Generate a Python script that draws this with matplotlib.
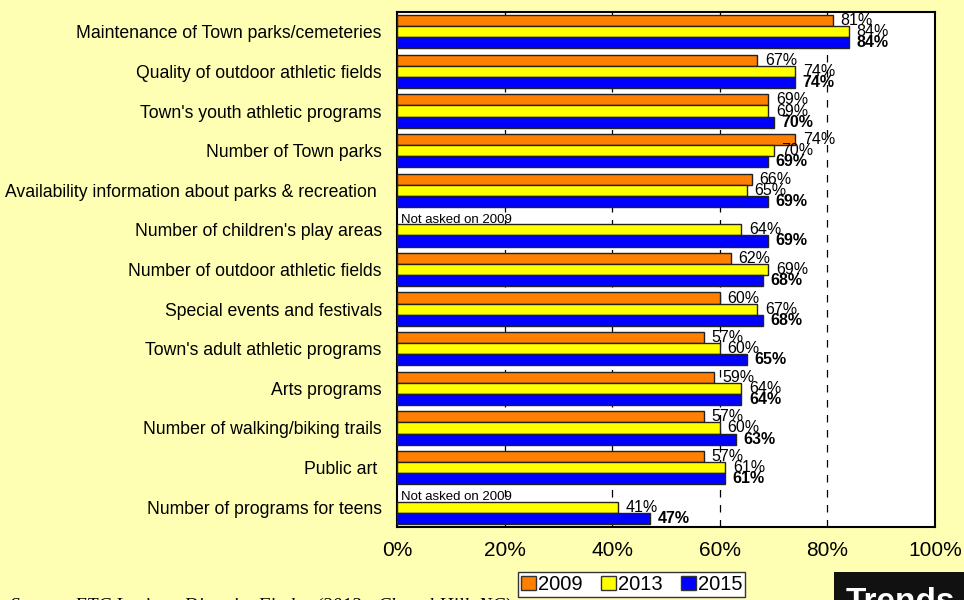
import numpy as np
import matplotlib
matplotlib.use("Agg")
import matplotlib.pyplot as plt
from matplotlib.patches import Patch, Rectangle

plt.rcParams['font.family'] = ['Liberation Sans', 'DejaVu Sans']

categories = [
    "Maintenance of Town parks/cemeteries",
    "Quality of outdoor athletic fields",
    "Town's youth athletic programs",
    "Number of Town parks",
    "Availability information about parks & recreation ",
    "Number of children's play areas",
    "Number of outdoor athletic fields",
    "Special events and festivals",
    "Town's adult athletic programs",
    "Arts programs",
    "Number of walking/biking trails",
    "Public art ",
    "Number of programs for teens",
]
vals_2009 = [81, 67, 69, 74, 66, None, 62, 60, 57, 59, 57, 57, None]
vals_2013 = [84, 74, 69, 70, 65, 64, 69, 67, 60, 64, 60, 61, 41]
vals_2015 = [84, 74, 70, 69, 69, 69, 68, 68, 65, 64, 63, 61, 47]
years = ["2009", "2013", "2015"]
colors = ["#FF8000", "#FFFF00", "#0000FF"]
bg = "#FFFFB4"

fig = plt.figure(figsize=(9.64, 6), dpi=100, facecolor=bg)
ax = fig.add_axes([397/964, 73/600, 538/964, 515/600])
ax.set_facecolor("white")

n = len(categories)
centers = np.arange(n) + 0.5
h = 0.28
series = [vals_2009, vals_2013, vals_2015]
for k, (vals, col) in enumerate(zip(series, colors)):
    y = centers + (k - 1) * h
    for i, v in enumerate(vals):
        if v is None:
            ax.text(0.7, y[i] + 0.03, "Not asked on 2009", fontsize=9.5,
                    va="center", ha="left", zorder=4)
            continue
        ax.barh(y[i], v, height=h, color=col, edgecolor="#222222",
                linewidth=1, zorder=3)
        ax.annotate(f"{v}%", (v, y[i]), xytext=(5.5, 0),
                    textcoords="offset points", va="center", ha="left",
                    fontsize=11.5, fontweight="bold" if k == 2 else "normal",
                    zorder=5)

for x in [20, 40, 60, 80]:
    ax.axvline(x, color="black", linestyle=(0, (6, 6)), linewidth=0.9, zorder=1)

ax.set_xlim(0, 100)
ax.set_ylim(n, 0)
ax.set_yticks(centers)
ax.set_yticklabels(categories, fontsize=12.7)
ax.set_xticks([0, 20, 40, 60, 80, 100])
ax.set_xticklabels(["0%", "20%", "40%", "60%", "80%", "100%"], fontsize=15)
ax.tick_params(axis="y", length=0, pad=11)
ax.tick_params(axis="x", length=0, pad=10)
for s in ax.spines.values():
    s.set_linewidth(1.5)

handles = [Patch(facecolor=c, edgecolor="#333333", label=y) for c, y in zip(colors, years)]
leg = fig.legend(handles=handles, loc="upper left", bbox_to_anchor=(518/964, 28/600),
                 ncol=3, fontsize=14.5, frameon=True, fancybox=False, framealpha=1,
                 edgecolor="#333333", handlelength=0.75, handleheight=0.75,
                 handletextpad=0.1, columnspacing=0.9, borderpad=0.15,
                 borderaxespad=0)

fig.text(10/964, -15/600, "Source: ETC Institute DirectionFinder (2013 - Chapel Hill, NC)",
         family="Liberation Serif", style="italic", fontsize=14, va="bottom", ha="left")

fig.patches.append(Rectangle((834/964, 0), 0.2, 28/600, transform=fig.transFigure,
                             facecolor="#111111", edgecolor="none"))
fig.text(846/964, -18/600, "Trends", color="white", fontweight="bold", fontsize=24,
         va="bottom", ha="left")

fig.savefig("out.png", dpi=100, facecolor=bg)
